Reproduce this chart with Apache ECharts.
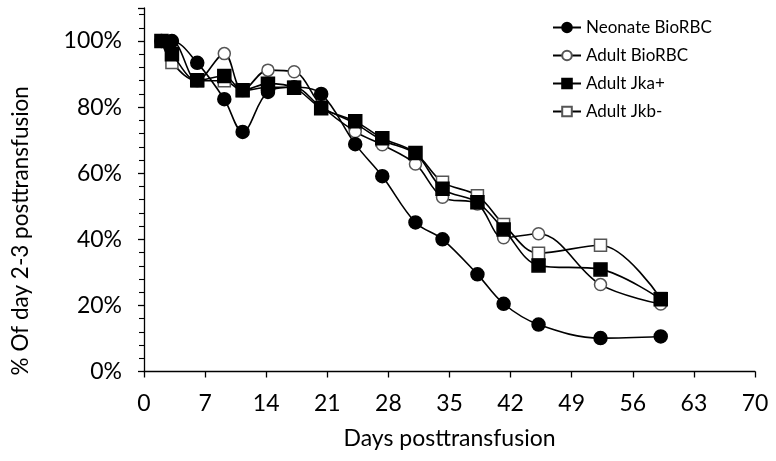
<!DOCTYPE html>
<html><head><meta charset="utf-8">
<script src="https://cdn.jsdelivr.net/npm/echarts@6/dist/echarts.min.js"></script>
<style>html,body{margin:0;padding:0;background:#fff}#c{width:776px;height:461px}</style>
</head><body><div id="c"></div>
<script>
var seriesNames = ['Neonate BioRBC', 'Adult BioRBC', 'Adult Jka+', 'Adult Jkb-'];
var days = [2.0, 3.2, 6.1, 9.2, 11.3, 14.2, 17.2, 20.3, 24.2, 27.3, 31.1, 34.2, 38.2, 41.2, 45.2, 52.3, 59.2];
var neonateBio = [100, 100, 93.4, 82.4, 72.5, 84.6, 86, 84, 68.8, 59.1, 45.1, 40, 29.4, 20.5, 14.2, 10.1, 10.6];
var adultBio = [100, 100, 88, 96.2, 85, 91.2, 90.7, 80.5, 72.6, 68.6, 62.8, 52.7, 50.7, 40.5, 41.7, 26.3, 20.4];
var adultJkaPlus = [100, 96, 88.1, 89.4, 85.1, 87.1, 85.9, 79.7, 75.7, 70.6, 66.1, 55.3, 51.2, 43, 32.1, 30.9, 21.9];
var adultJkbMinus = [100, 93.5, 88, 88, 85, 86, 86, 80, 75, 70, 66, 57.3, 53.2, 44.5, 35.8, 38.2, 22.1];
var xTicks = [0, 7, 14, 21, 28, 35, 42, 49, 56, 63, 70];
var yTicks = [0, 20, 40, 60, 80, 100];

function pairs(vals){ return days.map(function(d,i){ return [d, vals[i]]; }); }
var FONT = 'Lato, "Open Sans", sans-serif';
var styles = [
  {symbol:'circle', size:13, fill:'#000', border:'#000'},
  {symbol:'circle', size:12, fill:'#fff', border:'#555'},
  {symbol:'rect', size:13, fill:'#000', border:'#000'},
  {symbol:'rect', size:12, fill:'#fff', border:'#555'}
];
var allData = [neonateBio, adultBio, adultJkaPlus, adultJkbMinus];
var series = allData.map(function(vals, i){
  var s = styles[i];
  return {
    name: seriesNames[i], type:'line', smooth:0.35, data: pairs(vals),
    symbol: s.symbol, symbolSize: s.size, showAllSymbol:true,
    lineStyle:{color:'#000', width:1.6},
    itemStyle:{color:s.fill, borderColor:s.border, borderWidth:1.5, opacity:1},
    z: [5,3,4,2][i], animation:false
  };
});
var chart = echarts.init(document.getElementById('c'), null, {renderer:'canvas'});
chart.setOption({
  animation:false,
  backgroundColor:'#fff',
  grid:{left:144, right:21, top:8, bottom:89.5, containLabel:false},
  legend:{
    orient:'vertical', left:547, top:14, itemWidth:28, itemHeight:12, itemGap:11,
    textStyle:{fontFamily:FONT, fontSize:17, color:'#000'},
    data: seriesNames
  },
  xAxis:{
    type:'value', min:0, max:70, interval:7,
    name:'Days posttransfusion', nameLocation:'middle', nameGap:56,
    nameTextStyle:{fontFamily:FONT, fontSize:23, color:'#000'},
    axisLine:{show:true, lineStyle:{color:'#000', width:1.3}},
    axisTick:{show:true, inside:false, length:6, lineStyle:{color:'#000', width:1.3}},
    axisLabel:{fontFamily:FONT, fontSize:23, color:'#000', margin:21,
      formatter:function(v){ return xTicks.indexOf(v)>=0 ? String(v) : ''; }},
    splitLine:{show:false}
  },
  yAxis:{
    type:'value', min:0, max:110, interval:20,
    name:'% Of day 2-3 posttransfusion', nameLocation:'middle', nameGap:112, nameRotate:90,
    nameTextStyle:{fontFamily:FONT, fontSize:22.5, color:'#000', padding:[0,82,0,0]},
    axisLine:{show:true, lineStyle:{color:'#000', width:1.3}},
    axisTick:{show:true, inside:false, length:6, lineStyle:{color:'#000', width:1.3}},
    minorTick:{show:true, splitNumber:5, length:5, lineStyle:{color:'#000', width:1.1}},
    axisLabel:{fontFamily:FONT, fontSize:23, color:'#000', margin:22,
      formatter:function(v){ return yTicks.indexOf(v)>=0 ? v + '%' : ''; }},
    splitLine:{show:false}
  },
  series: series
});
</script></body></html>
